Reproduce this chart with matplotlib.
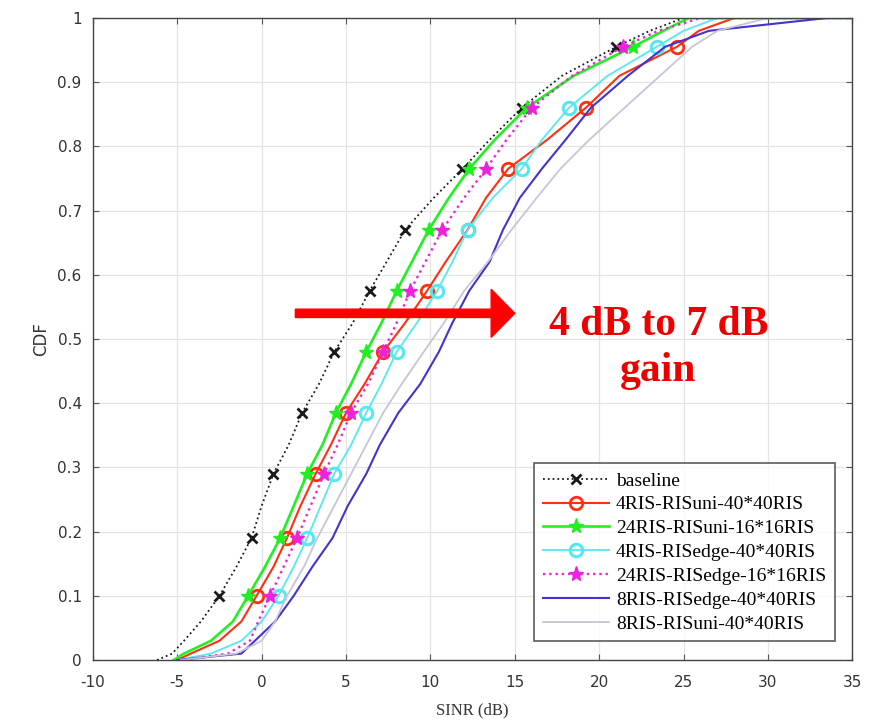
import matplotlib
matplotlib.use("Agg")
import matplotlib.pyplot as plt
from matplotlib.patches import FancyArrow

plt.rcParams["axes.unicode_minus"] = False

# CDF levels shared by every curve (SINR samples read at these quantiles)
cdf_levels = [0, 0.01, 0.03, 0.06, 0.1, 0.145, 0.19, 0.24, 0.29, 0.335, 0.385,
              0.43, 0.48, 0.525, 0.575, 0.62, 0.67, 0.72, 0.765, 0.81, 0.86,
              0.91, 0.955, 0.98, 1.0, 1.0]

labels = ["baseline", "4RIS-RISuni-40*40RIS", "24RIS-RISuni-16*16RIS",
          "4RIS-RISedge-40*40RIS", "24RIS-RISedge-16*16RIS",
          "8RIS-RISedge-40*40RIS", "8RIS-RISuni-40*40RIS"]

sinr_baseline = [-6.2, -5.3, -4.6, -3.6, -2.5, -1.5, -0.6, 0.0, 0.7, 1.6, 2.4,
                 3.4, 4.3, 5.4, 6.4, 7.4, 8.5, 10.2, 11.9, 13.5, 15.4,
                 17.8, 21.0, 23.0, 25.0, 35.0]
sinr_4ris_uni = [-5.0, -4.2, -2.5, -1.2, -0.3, 0.7, 1.5, 2.3, 3.2, 4.1, 5.0,
                 6.1, 7.2, 8.5, 9.8, 10.9, 12.2, 13.3, 14.6, 16.9, 19.2,
                 21.2, 24.6, 25.9, 28.0, 35.0]
sinr_24ris_uni = [-5.2, -4.6, -3.0, -1.7, -0.8, 0.2, 1.1, 1.9, 2.7, 3.6, 4.4,
                  5.3, 6.2, 7.1, 8.0, 8.9, 9.9, 11.1, 12.3, 13.8, 15.7,
                  18.5, 22.0, 23.8, 25.3, 35.0]
sinr_4ris_edge = [-5.0, -3.0, -1.2, 0.0, 1.0, 1.9, 2.7, 3.5, 4.3, 5.3, 6.2,
                  7.1, 8.0, 9.2, 10.4, 11.3, 12.2, 13.7, 15.4, 16.6, 18.2,
                  20.5, 23.4, 25.0, 27.0, 35.0]
sinr_24ris_edge = [-4.6, -2.0, -0.7, -0.2, 0.5, 1.3, 2.1, 2.9, 3.7, 4.5, 5.3,
                   6.3, 7.2, 8.0, 8.8, 9.7, 10.7, 12.0, 13.3, 14.5, 16.0,
                   18.4, 21.4, 23.5, 26.0, 35.0]
sinr_8ris_edge = [-5.0, -1.2, -0.4, 0.8, 1.9, 3.0, 4.2, 5.1, 6.2, 7.0, 8.1,
                  9.4, 10.5, 11.3, 12.3, 13.5, 14.3, 15.3, 16.6, 18.0, 19.5,
                  21.7, 23.9, 26.5, 33.5, 35.0]
sinr_8ris_uni = [-4.8, -1.5, 0.0, 0.8, 1.5, 2.5, 3.3, 4.3, 5.3, 6.2, 7.2,
                 8.3, 9.6, 10.8, 12.0, 13.4, 14.8, 16.3, 17.7, 19.4, 21.5,
                 23.6, 25.5, 27.0, 30.0, 35.0]

x_ticks = [-10, -5, 0, 5, 10, 15, 20, 25, 30, 35]
y_ticks = [0, 0.1, 0.2, 0.3, 0.4, 0.5, 0.6, 0.7, 0.8, 0.9, 1]
y_tick_labels = ["0", "0.1", "0.2", "0.3", "0.4", "0.5", "0.6", "0.7", "0.8", "0.9", "1"]

gain_arrow = (2.0, 15.0, 0.54)      # start SINR, end SINR, CDF level
gain_text = "4 dB to 7 dB\ngain"

marker_idx = [4, 6, 8, 10, 12, 14, 16, 18, 20, 22]

fig = plt.figure(figsize=(8.76, 7.2), dpi=100)
fig.patch.set_facecolor("white")
ax = fig.add_axes([0.106, 0.0833, 0.867, 0.8917])

styles = [
    dict(color="#1a1a1a", ls=":", lw=1.3, marker="x", ms=7, mew=2.0, mfc="#1a1a1a"),
    dict(color="#ff3010", ls="-", lw=1.5, marker="o", ms=9, mew=2.0, mfc="none"),
    dict(color="#22ee22", ls="-", lw=1.9, marker="*", ms=11, mew=1.0, mfc="#22ee22"),
    dict(color="#55e8f0", ls="-", lw=1.3, marker="o", ms=9, mew=2.2, mfc="none"),
    dict(color="#ee22dd", ls=":", lw=1.7, marker="*", ms=11, mew=1.0, mfc="#ee22dd"),
    dict(color="#4433cc", ls="-", lw=1.5, marker=None),
    dict(color="#c8c4d8", ls="-", lw=1.3, marker=None),
]
series = [sinr_baseline, sinr_4ris_uni, sinr_24ris_uni, sinr_4ris_edge,
          sinr_24ris_edge, sinr_8ris_edge, sinr_8ris_uni]

for sinr, lab, st in zip(series, labels, styles):
    st = dict(st)
    if st.get("marker"):
        st["markevery"] = marker_idx
        st["markeredgecolor"] = st["color"]
    ax.plot(sinr, cdf_levels, label=lab, **st)

ax.set_xlim(-10, 35)
ax.set_ylim(0, 1)
ax.set_xticks(x_ticks)
ax.set_yticks(y_ticks)
ax.set_yticklabels(y_tick_labels)
ax.grid(True, color="#e4e4e4", lw=0.9)
ax.set_axisbelow(True)
for s in ax.spines.values():
    s.set_color("#444444")
    s.set_linewidth(1.0)
ax.tick_params(direction="in", length=4, color="#555555", labelsize=11,
               labelcolor="#333333", top=True, right=True)
ax.tick_params(axis="x", pad=11)
ax.tick_params(axis="y", pad=8)
ax.set_xlabel("SINR (dB)", fontsize=12, color="#333333", labelpad=9,
              family="Liberation Serif")
ax.set_ylabel("CDF", fontsize=12, color="#333333", labelpad=5)

leg = ax.legend(loc="lower right", bbox_to_anchor=(0.99, 0.014),
                prop={"family": "Liberation Serif", "size": 14},
                frameon=True, fancybox=False, edgecolor="#333333",
                handlelength=3.4, labelspacing=0.32, borderpad=0.45,
                handletextpad=0.35)
leg.get_frame().set_linewidth(1.2)

x0, x1, yl = gain_arrow
ax.add_patch(FancyArrow(x0, yl, x1 - x0, 0, width=0.013, head_width=0.075,
                        head_length=1.4, length_includes_head=True,
                        color="#ff0000", zorder=6))
ax.text(23.5, 0.486, gain_text, ha="center", va="center", color="#ee0000",
        fontsize=30, fontweight="bold", family="Liberation Serif",
        linespacing=1.3, zorder=6)

fig.savefig("out.png", dpi=100, facecolor="white")
